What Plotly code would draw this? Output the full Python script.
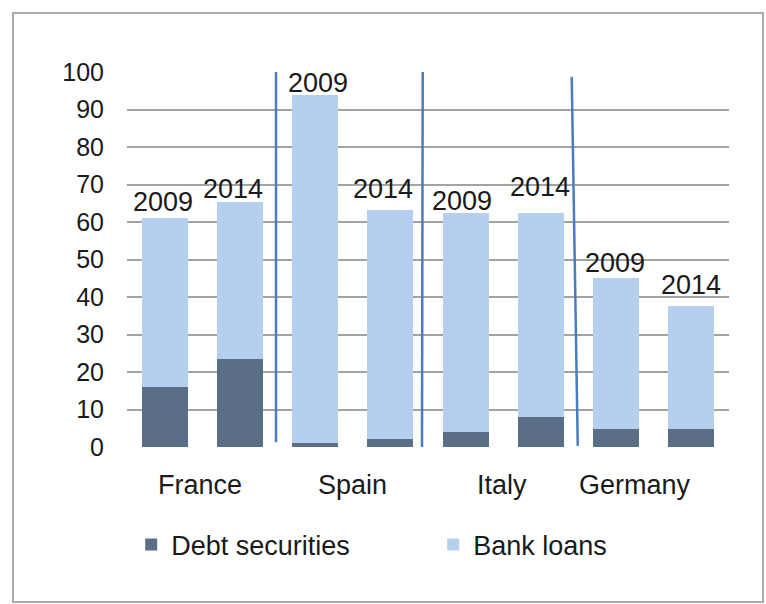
import plotly.graph_objects as go

# Category slots: two years per country
countries = ["France", "Spain", "Italy", "Germany"]
years = ["2009", "2014", "2009", "2014", "2009", "2014", "2009", "2014"]

# Corporate financing, % of GDP
debt_securities = [16.0, 23.4, 1.2, 2.1, 4.1, 8.1, 4.9, 4.8]
bank_loans = [45.0, 42.0, 92.7, 61.1, 58.2, 54.2, 40.1, 32.8]

# Pixel offsets of the year labels relative to each bar top
label_dy = [16, 13, 12, 21, 12, 26, 15, 21]
label_dx = [-2, -7, 3, -7, -4, -1, -1, 0]

FONT = "Liberation Sans, Arial, sans-serif"
DARK = "#5a6f87"
LIGHT = "#b4d0ee"
SEP = "#4a7dbd"

slots = list(range(len(years)))

fig = go.Figure()
fig.add_trace(go.Bar(x=slots, y=debt_securities, name="Debt securities",
                     marker=dict(color=DARK, line=dict(width=0)), width=0.61))
fig.add_trace(go.Bar(x=slots, y=bank_loans, name="Bank loans",
                     marker=dict(color=LIGHT, line=dict(width=0)), width=0.61))

totals = [d + b for d, b in zip(debt_securities, bank_loans)]
annotations = []
for i, (yr, tot) in enumerate(zip(years, totals)):
    annotations.append(dict(x=i, y=tot, xref="x", yref="y", text=yr,
                            showarrow=False, yanchor="middle",
                            yshift=label_dy[i], xshift=label_dx[i],
                            font=dict(family=FONT, size=27, color="#1a1a1a")))

country_shift = [-2, 0, -1, -19]
for k, c in enumerate(countries):
    annotations.append(dict(x=2 * k + 0.5, y=-0.101, xref="x", yref="paper",
                            text=c, showarrow=False, yanchor="middle",
                            xshift=country_shift[k],
                            font=dict(family=FONT, size=27, color="#1a1a1a")))

shapes = [
    dict(type="line", xref="x", yref="y", x0=1.48, x1=1.48, y0=1.3, y1=100,
         line=dict(color=SEP, width=2.5)),
    dict(type="line", xref="x", yref="y", x0=3.42, x1=3.43, y0=-0.3, y1=100,
         line=dict(color=SEP, width=2.5)),
    dict(type="line", xref="x", yref="y", x0=5.41, x1=5.49, y0=98.7, y1=0.3,
         line=dict(color=SEP, width=2.5)),
    # outer frame
    dict(type="rect", xref="paper", yref="paper", x0=-0.1894, x1=1.0565,
         y0=-0.4133, y1=1.1573, line=dict(color="#ababab", width=2),
         layer="below"),
]

fig.update_layout(
    width=766, height=604,
    margin=dict(l=127, r=37, t=72, b=157),
    paper_bgcolor="white", plot_bgcolor="white",
    barmode="stack", bargap=0.39,
    font=dict(family=FONT, size=25, color="#1a1a1a"),
    xaxis=dict(range=[-0.5, 7.5], showticklabels=False, showgrid=False,
               zeroline=False, showline=False, fixedrange=True),
    yaxis=dict(range=[0, 100], dtick=10, showgrid=True, gridcolor="#a3a3a3",
               gridwidth=1.5, zeroline=False, showline=False, ticks="",
               ticklabelstandoff=22,
               tickfont=dict(family=FONT, size=25, color="#1a1a1a")),
    legend=dict(orientation="h", x=0.007, xanchor="left", y=-0.261,
                yanchor="middle", traceorder="normal",
                font=dict(family=FONT, size=27, color="#1a1a1a"),
                bgcolor="rgba(0,0,0,0)", entrywidth=257, itemwidth=30),
    annotations=annotations,
    shapes=shapes,
    showlegend=True,
)

fig.write_html("out.html")
